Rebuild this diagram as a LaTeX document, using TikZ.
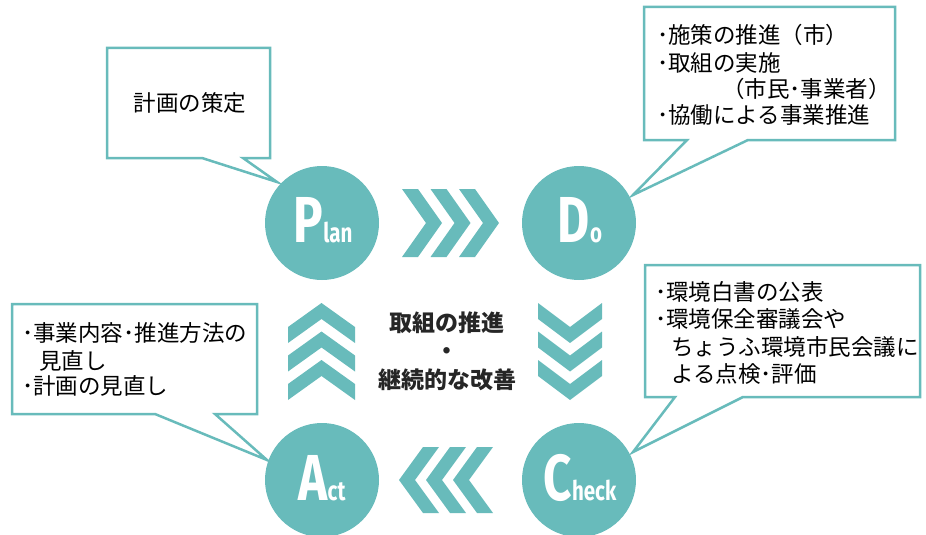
\documentclass[tikz,border=0pt]{standalone}
\usepackage{fontspec}
\newfontfamily\jp{Noto Sans CJK JP}
\newfontfamily\pdcafont{Fira Sans}
\definecolor{pdteal}{HTML}{68BBBB}
\newcommand{\pdbig}[1]{\fontsize{65}{65}\selectfont #1}
\newcommand{\pdsml}[1]{\fontsize{27}{27}\selectfont #1}
\begin{document}
\begin{tikzpicture}[x=1pt,y=-1pt,
  pdcacirc/.style={circle,fill=pdteal,draw=none,minimum size=114pt,inner sep=0pt},
  pdcalbl/.style={text=white,inner sep=0pt,anchor=base,font=\pdcafont\bfseries},
  callout/.style={draw=pdteal,line width=2.5pt,fill=white,line join=miter},
  chev/.style={fill=pdteal,draw=none},
  txt/.style={font=\jp\fontsize{22.5}{26}\selectfont,inner sep=0pt,anchor=base west,text=black},
  ctxt/.style={font=\jp\bfseries\fontsize{23}{27}\selectfont,inner sep=0pt,anchor=base,text=black!85}
]
\useasboundingbox (0,0) rectangle (926,535);

% circles
\node[pdcacirc] (plan) at (322,223) {};
\node[pdcacirc] (do) at (579,223) {};
\node[pdcacirc] (check) at (579,480) {};
\node[pdcacirc] (act) at (322,480) {};

\node[pdcalbl] (planlbl) at (323,242) {\scalebox{0.76}[1]{\pdbig{P}\pdsml{lan}}};
\node[pdcalbl] (dolbl) at (580,242) {\scalebox{0.76}[1]{\pdbig{D}\pdsml{o}}};
\node[pdcalbl] (checklbl) at (580,500) {\scalebox{0.76}[1]{\pdbig{C}\pdsml{heck}}};
\node[pdcalbl] (actlbl) at (322,500) {\scalebox{0.76}[1]{\pdbig{A}\pdsml{ct}}};

% chevrons Plan -> Do
\foreach \ox in {402,430.5,459}{
  \fill[chev] (\ox,189) -- (\ox+16,189) -- (\ox+40,223) -- (\ox+16,257) -- (\ox,257) -- (\ox+24,223) -- cycle;
}
% chevrons Check -> Act
\foreach \ox in {493,466,439}{
  \fill[chev] (\ox,447) -- (\ox-16,447) -- (\ox-40,480) -- (\ox-16,513) -- (\ox,513) -- (\ox-24,480) -- cycle;
}
% chevrons Do -> Check
\foreach \oy in {303,331.5,360}{
  \fill[chev] (538,\oy) -- (570,\oy+24) -- (602,\oy) -- (602,\oy+16) -- (570,\oy+40) -- (538,\oy+16) -- cycle;
}
% chevrons Act -> Plan
\foreach \oy in {303,331.5,360}{
  \fill[chev] (321.5,\oy) -- (355,\oy+24) -- (355,\oy+40) -- (321.5,\oy+16) -- (288,\oy+40) -- (288,\oy+24) -- cycle;
}

% callout tips
\coordinate (plantip) at (277,182);
\coordinate (dotip) at (633,195);
\coordinate (checktip) at (633,452);
\coordinate (acttip) at (267,460);

% callouts
\draw[callout] (107,48) -- (270,48) -- (270,158) -- (243,158) -- (plantip) -- (202,158) -- (107,158) -- cycle;
\draw[callout] (644,7) -- (895,7) -- (895,140) -- (748,140) -- (dotip) -- (687,140) -- (644,140) -- cycle;
\draw[callout] (645,265) -- (920,265) -- (920,397) -- (743,397) -- (checktip) -- (675,397) -- (645,397) -- cycle;
\draw[callout] (12,304) -- (257,304) -- (257,414) -- (215,414) -- (acttip) -- (155,414) -- (12,414) -- cycle;

% callout texts
\node[txt,anchor=base] (plant) at (190,111) {計画の策定};

\node[txt] (do1) at (657,43.5) {･施策の推進（市）};
\node[txt] (do2) at (657,71) {･取組の実施};
\node[txt] (do3) at (722,97.5) {（市民･事業者）};
\node[txt] (do4) at (657,123.5) {･協働による事業推進};

\node[txt] (ch1) at (655,300) {･環境白書の公表};
\node[txt] (ch2) at (655,327) {･環境保全審議会や};
\node[txt] (ch3) at (671,355) {ちょうふ環境市民会議に};
\node[txt] (ch4) at (671,382) {よる点検･評価};

\node[txt] (ac1) at (22,341) {･事業内容･推進方法の};
\node[txt] (ac2) at (39,369) {見直し};
\node[txt] (ac3) at (22,394) {･計画の見直し};

% center text
\node[ctxt] (c1) at (447,331) {取組の推進};
\node[ctxt] (c2) at (447,359) {・};
\node[ctxt] (c3) at (447,388) {継続的な改善};
\end{tikzpicture}
\end{document}
